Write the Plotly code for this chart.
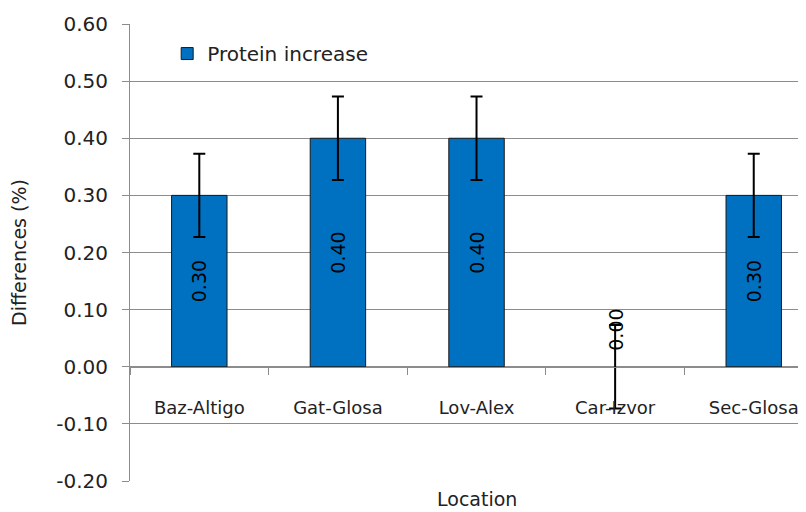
import plotly.graph_objects as go

categories = ["Baz-Altigo", "Gat-Glosa", "Lov-Alex", "Car-Izvor", "Sec-Glosa"]
values = [0.30, 0.40, 0.40, 0.00, 0.30]
errors = [0.073, 0.073, 0.073, 0.073, 0.073]
series_name = "Protein increase"
y_ticks = [-0.20, -0.10, 0.00, 0.10, 0.20, 0.30, 0.40, 0.50, 0.60]

FONT = "DejaVu Sans"
GRID = "#8c8c8c"

labels = [f"{v:.2f}" if v != 0 else "" for v in values]
border_w = [1 if v != 0 else 0 for v in values]

fig = go.Figure()
fig.add_trace(go.Bar(
    x=categories, y=values, name=series_name,
    marker=dict(color="#0070C0", line=dict(color="#1a1a1a", width=border_w)),
    width=0.4,
    text=labels, textposition="inside", textangle=-90,
    insidetextanchor="middle", constraintext="none",
    textfont=dict(family=FONT, size=19, color="black"),
    error_y=dict(type="data", array=errors, visible=True,
                 color="black", thickness=2, width=6),
    showlegend=True,
))

annotations = []
for c, v in zip(categories, values):
    if v == 0:
        annotations.append(dict(x=c, y=0.065, xref="x", yref="y",
                                text=f"{v:.2f}", textangle=-90, showarrow=False,
                                font=dict(family=FONT, size=19, color="black")))
annotations.append(dict(x=categories[2], y=0, xref="x", yref="paper",
                        yanchor="top", yshift=-5, text="Location", showarrow=False,
                        font=dict(family=FONT, size=19, color="#222")))

fig.update_layout(
    width=798, height=504,
    margin=dict(l=122, r=0, t=16, b=31),
    paper_bgcolor="white", plot_bgcolor="white",
    font=dict(family=FONT, size=19, color="#222"),
    legend=dict(x=0.055, y=0.978, xanchor="left", yanchor="top",
                bgcolor="rgba(0,0,0,0)", font=dict(family=FONT, size=20, color="#222")),
    annotations=annotations,
    xaxis=dict(
        range=[-0.5, 4.377], anchor="free", position=0.25, automargin=False,
        showline=True, linecolor=GRID, linewidth=1,
        ticks="outside", tickson="boundaries", ticklen=7, tickcolor=GRID,
        ticklabelstandoff=25, showgrid=False,
        tickfont=dict(family=FONT, size=18, color="#222"),
    ),
    yaxis=dict(
        range=[-0.2, 0.6], tickvals=y_ticks, automargin=False,
        ticktext=[f"{t:.2f}" for t in y_ticks],
        showgrid=True, gridcolor=GRID, gridwidth=1, zeroline=False,
        showline=True, linecolor=GRID, linewidth=1,
        ticks="outside", ticklen=7, tickcolor=GRID, ticklabelstandoff=10,
        tickfont=dict(family=FONT, size=20, color="#222"),
        title=dict(text="Differences (%)", standoff=30,
                   font=dict(family=FONT, size=19, color="#222")),
    ),
)

fig.write_html("out.html")
